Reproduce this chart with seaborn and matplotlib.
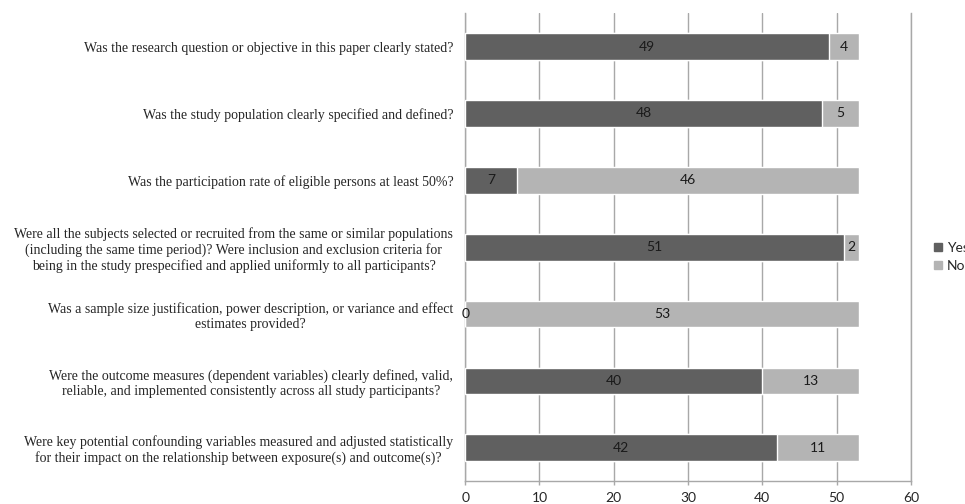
import numpy as np
import pandas as pd
import seaborn as sns
import matplotlib.pyplot as plt
from matplotlib.patches import Patch

# Quality assessment questions (top to bottom)
questions = [
    "Was the research question or objective in this paper clearly stated?",
    "Was the study population clearly specified and defined?",
    "Was the participation rate of eligible persons at least 50%?",
    "Were all the subjects selected or recruited from the same or similar populations\n"
    "(including the same time period)? Were inclusion and exclusion criteria for\n"
    "being in the study prespecified and applied uniformly to all participants?",
    "Was a sample size justification, power description, or variance and effect\n"
    "estimates provided?",
    "Were the outcome measures (dependent variables) clearly defined, valid,\n"
    "reliable, and implemented consistently across all study participants?",
    "Were key potential confounding variables measured and adjusted statistically\n"
    "for their impact on the relationship between exposure(s) and outcome(s)?",
]
yes_counts = [49, 48, 7, 51, 0, 40, 42]
no_counts = [4, 5, 46, 2, 53, 13, 11]

dark = "#606060"
light = "#b4b4b4"
grid_col = "#a8a8a8"

df = pd.DataFrame({"question": questions, "Yes": yes_counts, "No": no_counts})
df["Total"] = df["Yes"] + df["No"]

sns.set_style("white")
fig = plt.figure(figsize=(9.65, 5.04), dpi=100)
ax = fig.add_axes([0.482, 0.045, 0.462, 0.929])

# stacked bars: total in light grey, Yes drawn over it in dark grey
sns.barplot(data=df, x="Total", y="question", color=light, width=0.4,
            saturation=1, ax=ax, zorder=2)
sns.barplot(data=df, x="Yes", y="question", color=dark, width=0.4,
            saturation=1, ax=ax, zorder=3)

label_font = dict(family="Lato", fontsize=10, color="#1a1a1a")
for i, (y, n) in enumerate(zip(yes_counts, no_counts)):
    ax.text(y / 2, i, str(y), ha="center", va="center", zorder=4, **label_font)
    ax.text(y + n / 2, i, str(n), ha="center", va="center", zorder=4, **label_font)

ax.set_xlim(0, 60)
ax.set_ylim(6.5, -0.5)
ax.set_xticks(np.arange(0, 61, 10))
ax.grid(axis="x", color=grid_col, linewidth=1, zorder=0)
ax.set_axisbelow(True)
ax.spines["top"].set_visible(False)
for side in ["bottom", "right", "left"]:
    ax.spines[side].set_color(grid_col)
    ax.spines[side].set_linewidth(1)
ax.tick_params(axis="x", bottom=True, length=3, width=1, color=grid_col,
               labelsize=10, pad=5)
ax.tick_params(axis="y", left=False, pad=5)
for t in ax.get_xticklabels():
    t.set_family("Lato")
for t in ax.get_yticklabels():
    t.set_family("Liberation Serif")
    t.set_fontsize(10)
    t.set_multialignment("center")
ax.set_xlabel("")
ax.set_ylabel("")

handles = [Patch(color=dark, label="Yes"), Patch(color=light, label="No")]
fig.legend(handles=handles, loc="center left", bbox_to_anchor=(0.955, 0.49),
           frameon=False, handlelength=0.55, handleheight=0.55, handletextpad=0.35,
           labelspacing=0.45, prop={"family": "Lato", "size": 10})

plt.savefig("out.png", dpi=100)
